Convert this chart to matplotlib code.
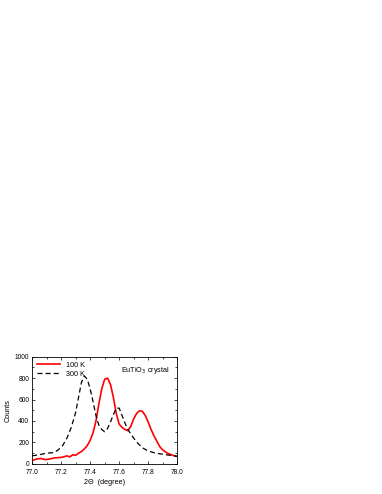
import numpy as np
import matplotlib.pyplot as plt
from matplotlib.ticker import MultipleLocator

plt.rcParams['font.family'] = ['Liberation Sans', 'DejaVu Sans']

# 100 K 曲线
theta_100 = [77.00, 77.03, 77.06, 77.09, 77.12, 77.15, 77.18, 77.21, 77.24, 77.26, 77.28,
             77.30, 77.32, 77.34, 77.36, 77.38, 77.40, 77.42, 77.44, 77.46, 77.48, 77.50,
             77.52, 77.54, 77.56, 77.58, 77.60, 77.62, 77.64, 77.66, 77.68, 77.70, 77.72,
             77.74, 77.76, 77.78, 77.80, 77.82, 77.84, 77.86, 77.88, 77.90, 77.92, 77.94,
             77.96, 77.98, 78.00]
counts_100 = [30, 45, 50, 40, 45, 55, 58, 62, 75, 65, 85,
              80, 100, 115, 140, 170, 220, 290, 400, 560, 700, 790,
              800, 740, 620, 470, 370, 340, 320, 310, 350, 420, 470,
              495, 490, 450, 390, 320, 260, 210, 160, 130, 110, 95,
              85, 75, 70]

# 300 K 曲线
theta_300 = [77.00, 77.05, 77.10, 77.15, 77.18, 77.21, 77.24, 77.27, 77.30, 77.32, 77.34,
             77.36, 77.38, 77.40, 77.42, 77.44, 77.46, 77.48, 77.50, 77.52, 77.54, 77.56,
             77.58, 77.60, 77.62, 77.64, 77.66, 77.68, 77.70, 77.73, 77.76, 77.80, 77.85,
             77.90, 77.95, 78.00]
counts_300 = [75, 85, 100, 105, 130, 170, 240, 340, 480, 620, 760,
              820, 790, 700, 580, 450, 360, 320, 300, 330, 390, 460,
              520, 520, 450, 380, 320, 280, 240, 190, 150, 120, 100,
              90, 80, 70]

fig = plt.figure(figsize=(3.82, 4.94), dpi=100)
ax = fig.add_axes([0.084, 0.061, 0.380, 0.217])

ax.plot(theta_100, counts_100, color='red', lw=1.2, label='100 K')
ax.plot(theta_300, counts_300, color='black', lw=0.9, ls=(0, (4, 2.5)), label='300 K')

ax.set_xlim(77.0, 78.0)
ax.set_ylim(0, 1000)
ax.xaxis.set_major_locator(MultipleLocator(0.2))
ax.xaxis.set_minor_locator(MultipleLocator(0.1))
ax.yaxis.set_major_locator(MultipleLocator(200))
ax.yaxis.set_minor_locator(MultipleLocator(100))
ax.xaxis.set_major_formatter(plt.FuncFormatter(lambda v, p: f'{v:.1f}'))
ax.tick_params(which='both', direction='in', top=True, right=True, labelsize=4.8, width=0.5)
ax.tick_params(axis='x', pad=3.5)
ax.tick_params(axis='y', pad=2)
ax.tick_params(which='major', length=2.5)
ax.tick_params(which='minor', length=1.5)
for s in ax.spines.values():
    s.set_linewidth(0.6)

ax.set_xlabel('2Θ  (degree)', fontsize=5.2, labelpad=2)
ax.set_ylabel('Counts', fontsize=5.2, labelpad=2)
ax.legend(loc='upper left', frameon=False, fontsize=5.2, handlelength=3.2,
          borderaxespad=0.3, labelspacing=0.3)
ax.text(0.95, 0.92, 'EuTiO$_3$ crystal', transform=ax.transAxes, ha='right', va='top', fontsize=5.2)

fig.savefig('out.png', dpi=100)
